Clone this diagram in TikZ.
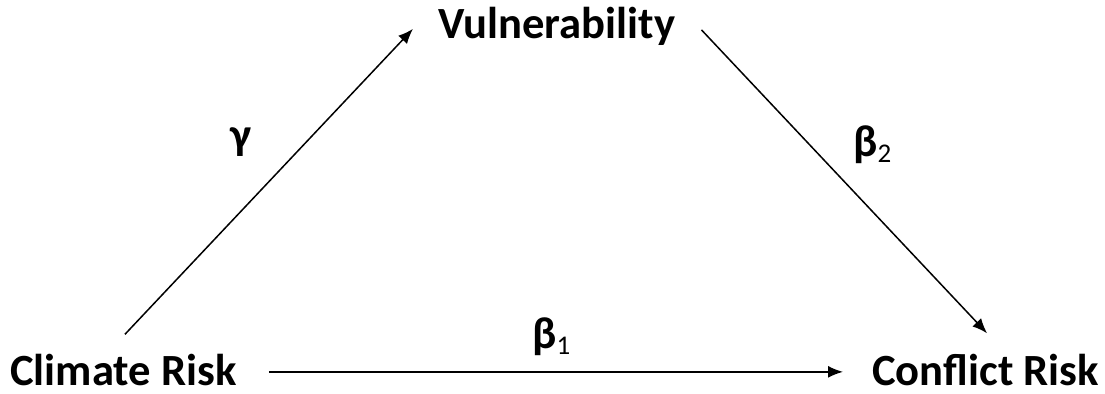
\documentclass[tikz,border=0pt]{standalone}
\usepackage{fontspec}
\setmainfont{Carlito}
\usetikzlibrary{arrows.meta}
\usetikzlibrary{calc}

\begin{document}
\begin{tikzpicture}[x=0.5pt,y=0.5pt,
    var/.style={font=\fontsize{22.3}{26}\selectfont\bfseries, inner sep=0pt, text depth=0pt, anchor=base west},
    coef/.style={font=\fontsize{22.3}{26}\selectfont\bfseries, inner sep=0pt},
    effect/.style={line width=0.75pt, -{Latex[length=7.5pt,width=6pt]}}]
      \useasboundingbox (0,0) rectangle (1105,393);

      % Variables
      \node[var] (climate) at (10,8) {Climate Risk};
      \node[var] (vuln) at (438,355) {Vulnerability};
      \node[var] (conflict) at (872,8) {Conflict Risk};

      % Effects
      \draw[effect] ($(climate.north)+(1.5,19)$) -- ($(vuln.west)+(-25,-6.5)$);
      \draw[effect] ($(vuln.east)+(26,-7.5)$) -- ($(conflict.north)+(1.5,20)$);
      \draw[effect] ($(climate.east)+(32,-2.5)$) -- ($(conflict.west)+(-29,-2.5)$);

      % Coefficients
      \node[coef] (gamma) at (241,251) {γ};
      \node[coef, anchor=base west] (beta2) at (853,237) {β{\fontsize{13.5}{14}\selectfont\mdseries\raisebox{-3pt}{2}}};
      \node[coef, anchor=base west] (beta1) at (532,45) {β{\fontsize{13.5}{14}\selectfont\mdseries\raisebox{-3pt}{1}}};
\end{tikzpicture}
\end{document}
